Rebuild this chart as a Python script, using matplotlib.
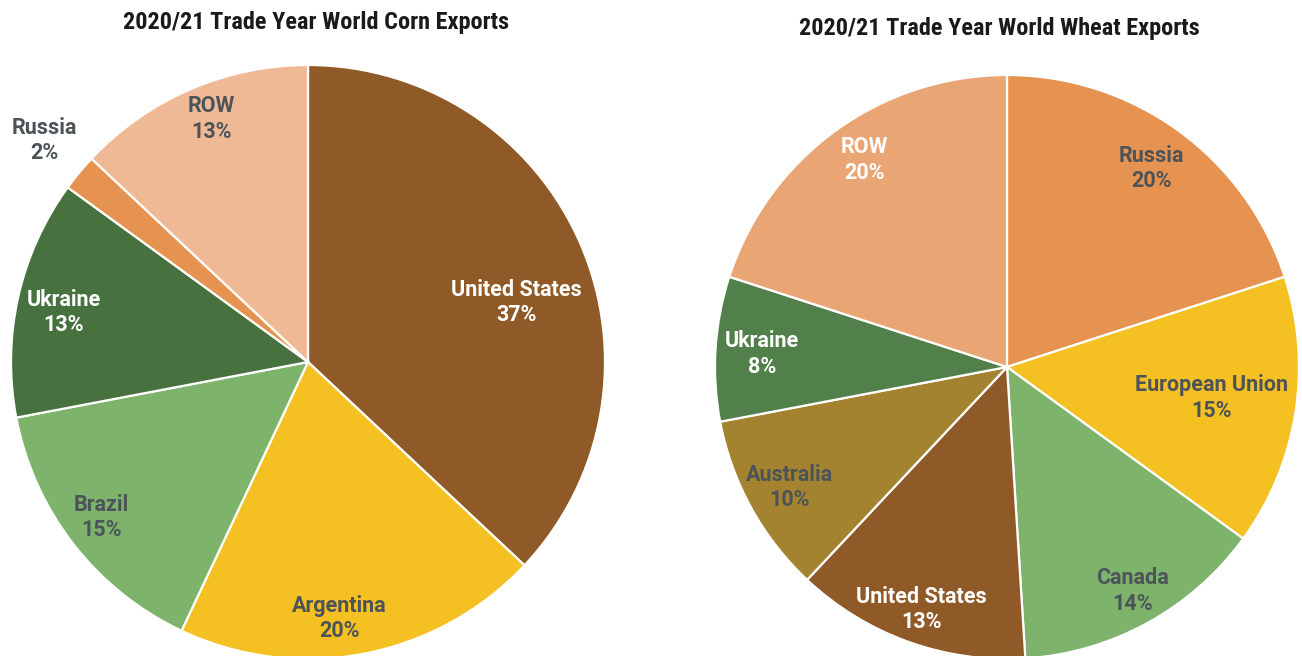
import numpy as np
import matplotlib.pyplot as plt

# corn exports 2020/21
corn_countries = ['United States', 'Argentina', 'Brazil', 'Ukraine', 'Russia', 'ROW']
corn_share = [37, 20, 15, 13, 2, 13]
corn_colors = ['#8F5A28', '#F5C021', '#7DB36A', '#477240', '#E69351', '#F0B995']
corn_text = ['white', 'gray', 'gray', 'white', 'gray', 'gray']

# wheat exports 2020/21
wheat_countries = ['Russia', 'European Union', 'Canada', 'United States', 'Australia', 'Ukraine', 'ROW']
wheat_share = [20, 15, 14, 13, 10, 8, 20]
wheat_colors = ['#E69351', '#F5C021', '#7DB36A', '#8F5A28', '#A3832F', '#52804A', '#EAA574']
wheat_text = ['gray', 'gray', 'gray', 'white', 'gray', 'white', 'white']

# label placement (fraction of radius, angle in degrees)
corn_lbl_pos = [(0.73, 16), (0.87, -83), (0.87, -143), (0.84, 168.5), (1.16, 140), (0.88, 111.6)]
wheat_lbl_pos = [(0.84, 54), (0.71, -8.6), (0.88, -60.7), (0.88, -109.4), (0.85, -151), (0.84, 177), (0.86, 124.5)]

GRAY = '#4D5459'
title_font = ['Roboto Condensed', 'DejaVu Sans']
label_font = ['Roboto', 'DejaVu Sans']

W, H = 1302, 656
fig = plt.figure(figsize=(W / 100, H / 100), dpi=100)
ax = fig.add_axes([0, 0, 1, 1])


def draw_pie(center, radius, values, colors, countries, text_cols, lbl_pos):
    ax.pie(values, colors=colors, startangle=90, counterclock=False,
           center=center, radius=radius,
           wedgeprops=dict(edgecolor='white', linewidth=1.6))
    for name, val, tc, (rf, ang) in zip(countries, values, text_cols, lbl_pos):
        x = center[0] + rf * radius * np.cos(np.radians(ang))
        y = center[1] + rf * radius * np.sin(np.radians(ang))
        ax.text(x, y, f'{name}\n{val}%', ha='center', va='center',
                color='white' if tc == 'white' else GRAY,
                fontsize=15.5, fontweight='bold', family=label_font,
                linespacing=1.2)


draw_pie((308, H - 362), 297, corn_share, corn_colors, corn_countries, corn_text, corn_lbl_pos)
draw_pie((1007, H - 367), 292, wheat_share, wheat_colors, wheat_countries, wheat_text, wheat_lbl_pos)

ax.text(316, H - 22, '2020/21 Trade Year World Corn Exports', ha='center', va='center',
        fontsize=17.5, fontweight='bold', family=title_font, color='#1A1A1A')
ax.text(999, H - 28, '2020/21 Trade Year World Wheat Exports', ha='center', va='center',
        fontsize=17.5, fontweight='bold', family=title_font, color='#1A1A1A')

ax.set_xlim(0, W)
ax.set_ylim(0, H)
ax.set_aspect('equal')
ax.axis('off')

fig.savefig('out.png', dpi=100)
